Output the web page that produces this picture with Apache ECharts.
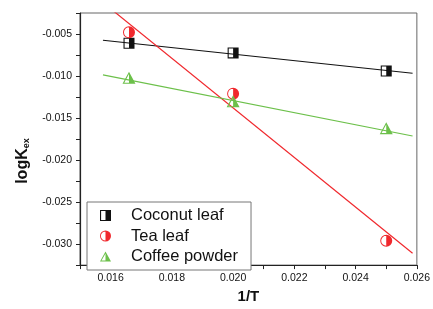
<!DOCTYPE html>
<html>
<head>
<meta charset="utf-8">
<script src="https://cdn.jsdelivr.net/npm/echarts@6/dist/echarts.min.js"></script>
<style>
  html, body { margin: 0; padding: 0; background: #fff; }
  #main { width: 433px; height: 309px; }
</style>
</head>
<body>
<div id="main"></div>
<script>
var names = ["Coconut leaf", "Tea leaf", "Coffee powder"];
var xValues = [0.0166, 0.02, 0.025];
var coconutValues = [-0.0061, -0.00725, -0.0094];
var teaValues = [-0.0048, -0.0121, -0.0296];
var coffeeValues = [-0.0102, -0.013, -0.0162];

// fitted lines, two end points each
var fitX = [0.01575, 0.02586];
var coconutFit = [-0.00574, -0.00967];
var teaFit = [-0.00125, -0.0311];
var coffeeFit = [-0.00987, -0.01714];

var colors = ["#111111", "#f0282d", "#6cc04a"];

// half filled markers: outer shape, hole, right half filled
var squareIcon = "path://M0,0 L10,0 L10,10 L0,10 Z M1,1 L1,9 L9,9 L9,1 Z M5,0 L10,0 L10,10 L5,10 Z";
var circleIcon = "path://M10,0 A10,10 0 1,1 10,20 A10,10 0 1,1 10,0 Z M10,1.6 A8.4,8.4 0 1,0 10,18.4 A8.4,8.4 0 1,0 10,1.6 Z M10,0 A10,10 0 0,1 10,20 Z";
var triangleIcon = "path://M10,0 L20,18 L0,18 Z M10,3.6 L2.8,16.4 L17.2,16.4 Z M10,0 L20,18 L10,18 Z";
var icons = [squareIcon, circleIcon, triangleIcon];
var iconSizes = [11, 12, [13, 12]];

function pairs(xs, ys) {
  var out = [];
  for (let i = 0; i < xs.length; i++) {
    out.push([xs[i], ys[i]]);
  }
  return out;
}

var pointSets = [coconutValues, teaValues, coffeeValues];
var fitSets = [coconutFit, teaFit, coffeeFit];

var series = [];
for (let i = 0; i < names.length; i++) {
  series.push({
    name: "fit" + i,
    type: "line",
    data: pairs(fitX, fitSets[i]),
    showSymbol: false,
    symbol: "none",
    silent: true,
    lineStyle: { color: colors[i], width: 1.2 },
    z: 2,
  });
}
for (let i = 0; i < names.length; i++) {
  series.push({
    name: names[i],
    type: "scatter",
    data: pairs(xValues, pointSets[i]),
    symbol: icons[i],
    symbolSize: iconSizes[i],
    itemStyle: { color: colors[i], opacity: 1 },
    z: 3,
  });
}

var myChart = echarts.init(document.getElementById("main"));

var option = {
  animation: false,
  grid: {
    left: 80,
    right: 12,
    top: 13,
    bottom: 39,
    show: true,
    borderColor: "#666",
    borderWidth: 1,
  },
  legend: {
    data: names,
    orient: "vertical",
    left: 87,
    top: 202,
    padding: [5, 13, 5, 13],
    itemGap: 3.5,
    itemWidth: 11,
    itemHeight: 11,
    borderColor: "#777",
    borderWidth: 1,
    backgroundColor: "#fff",
    textStyle: {
      fontFamily: "Liberation Sans",
      fontSize: 16.5,
      color: "#111",
      padding: [0, 0, 0, 15],
    },
  },
  xAxis: {
    type: "value",
    min: 0.015,
    max: 0.026,
    interval: 0.001,
    name: "1/T",
    nameLocation: "middle",
    nameGap: 22,
    nameTextStyle: {
      fontFamily: "Liberation Sans",
      fontSize: 15,
      fontWeight: "bold",
      color: "#111",
    },
    axisLine: { lineStyle: { color: "#222", width: 1.2 } },
    axisTick: { length: 4, lineStyle: { color: "#222" } },
    splitLine: { show: false },
    axisLabel: {
      fontFamily: "Liberation Sans",
      fontSize: 10.5,
      color: "#111",
      margin: 8,
      formatter: function (v) {
        return Math.round(v * 1000) % 2 === 0 ? v.toFixed(3) : "";
      },
    },
  },
  yAxis: {
    type: "value",
    min: -0.0325,
    max: -0.0025,
    interval: 0.0025,
    name: "{a|logK}{b|ex}",
    nameLocation: "middle",
    nameGap: 47,
    nameTextStyle: {
      padding: [0, 44, 0, 0],
      rich: {
        a: {
          fontFamily: "Liberation Sans",
          fontSize: 16,
          fontWeight: "bold",
          color: "#111",
        },
        b: {
          fontFamily: "Liberation Sans",
          fontSize: 9,
          fontWeight: "bold",
          color: "#111",
          padding: [9, 0, 0, 0],
        },
      },
    },
    axisLine: { show: true, lineStyle: { color: "#222", width: 1.2 } },
    axisTick: { show: true, length: 4, lineStyle: { color: "#222" } },
    splitLine: { show: false },
    axisLabel: {
      fontFamily: "Liberation Sans",
      fontSize: 10.5,
      color: "#111",
      margin: 8,
      formatter: function (v) {
        return Math.round(v * 10000) % 50 === 0 ? v.toFixed(3) : "";
      },
    },
  },
  series: series,
};

myChart.setOption(option);
</script>
</body>
</html>
